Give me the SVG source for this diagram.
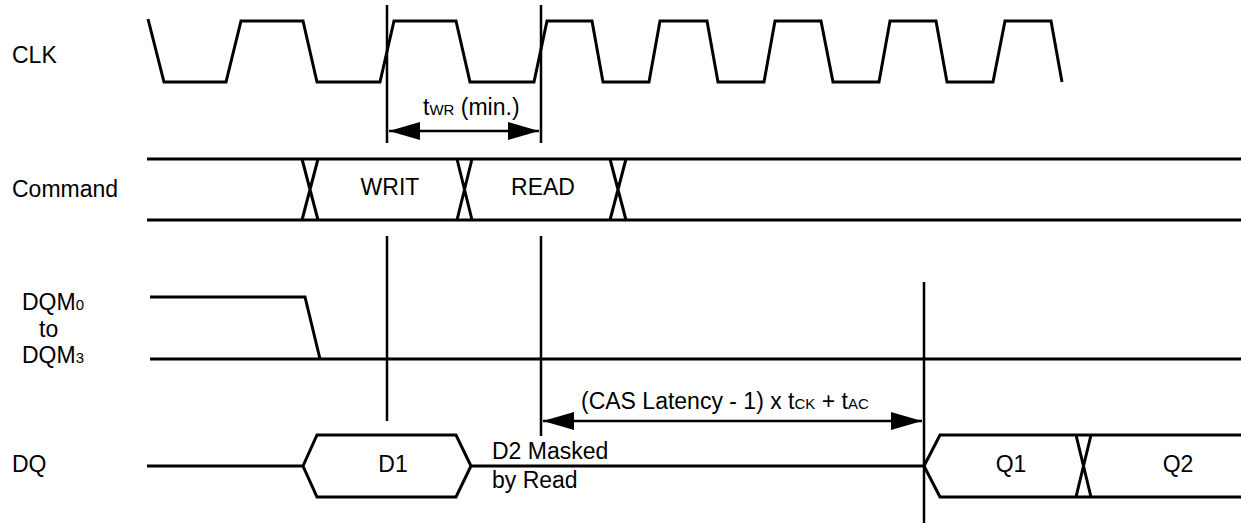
<svg xmlns="http://www.w3.org/2000/svg" width="1241" height="529" viewBox="0 0 1241 529">
<style>
.w{fill:none;stroke:#000;stroke-width:3;stroke-linejoin:miter}
.v{fill:none;stroke:#000;stroke-width:2.5}
.t{font-family:"Liberation Sans",Arial,sans-serif;font-size:23px;fill:#000}
.s{font-size:15px}
.ah{fill:#000;stroke:none}
</style>
<defs>
<marker id="arr" markerUnits="userSpaceOnUse" markerWidth="32" markerHeight="20" refX="31" refY="9" orient="auto-start-reverse" viewBox="0 0 32 20">
<path class="ah" d="M0,0 L31,9 L0,18 Z"/>
</marker>
</defs>
<rect width="1241" height="529" fill="#fff"/>
<g id="labels">
<text class="t" x="12" y="63">CLK</text>
<text class="t" x="12" y="197">Command</text>
<text class="t" x="22" y="310">DQM<tspan class="s">0</tspan></text>
<text class="t" x="39" y="337">to</text>
<text class="t" x="22" y="363">DQM<tspan class="s">3</tspan></text>
<text class="t" x="12" y="472">DQ</text>
</g>
<g id="clk">
<path class="w" d="M148,19 L164,82 L226,82 L241,21 L303,21 L317,82 L380,82 L394,21 L456,21 L470,82 L534,82 L547,21 L592,21 L603,82 L649,82 L660,21 L707,21 L718,82 L764,82 L775,21 L821,21 L833,82 L879,82 L890,21 L936,21 L947,82 L993,82 L1005,21 L1051,21 L1062,82"/>
</g>
<g id="command">
<path class="w" d="M147,159 L1241,159 M147,220 L1241,220"/>
<path class="w" d="M302,159 L318,220 M318,159 L302,220 M457,159 L472,220 M472,159 L457,220 M610,159 L626,220 M626,159 L610,220"/>
<text class="t" x="390" y="195" text-anchor="middle">WRIT</text>
<text class="t" x="543" y="195" text-anchor="middle">READ</text>
</g>
<g id="dqm">
<path class="w" d="M150,297 L305,297 L320,359 M150,359 L1241,359"/>
</g>
<g id="dq">
<path class="w" d="M147,466 L303,466 M303,466 L317,435 L456,435 L471,466 L456,497 L317,497 Z M471,466 L924,466"/>
<path class="w" d="M1241,435 L940,435 L924,466 L940,497 L1241,497 M1076,435 L1091,497 M1091,435 L1076,497"/>
<text class="t" x="393" y="472" text-anchor="middle">D1</text>
<text class="t" x="492" y="459">D2 Masked</text>
<text class="t" x="492" y="488">by Read</text>
<text class="t" x="1011" y="472" text-anchor="middle">Q1</text>
<text class="t" x="1178" y="472" text-anchor="middle">Q2</text>
</g>
<g id="connectors">
<path class="v" d="M387,5 L387,143 M541,5 L541,143 M387,236 L387,421 M541,236 L541,436 M924,282 L924,523"/>
<path class="v" d="M389,131 L539,131" marker-start="url(#arr)" marker-end="url(#arr)"/>
<path class="v" d="M543,421 L922,421" marker-start="url(#arr)" marker-end="url(#arr)"/>
<text class="t" x="423" y="115">t<tspan class="s">WR</tspan> (min.)</text>
<text class="t" x="581" y="409">(CAS Latency - 1) x t<tspan class="s">CK</tspan> + t<tspan class="s">AC</tspan></text>
</g>
</svg>
